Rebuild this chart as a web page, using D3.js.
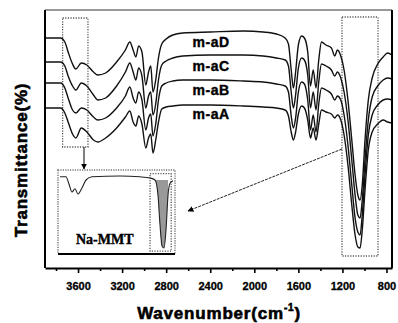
<!DOCTYPE html>
<html>
<head>
<meta charset="utf-8">
<script src="https://cdn.jsdelivr.net/npm/d3@7"></script>
<style>
  body { margin: 0; background: #fff; }
  text { font-family: "Liberation Sans", Arial, sans-serif; font-weight: bold; fill: #000; }
</style>
</head>
<body>
<script>
// FTIR spectra, stacked (transmittance in arbitrary offset units)
const wavenumbers = [3900,3760,3720,3690,3650,3620,3570,3520,3460,3420,3350,3250,3170,3130,3100,3075,3050,3020,2985,2960,2940,2920,2895,2870,2840,2800,2740,2650,2400,2100,1920,1800,1720,1690,1665,1645,1625,1600,1570,1545,1515,1490,1465,1440,1415,1390,1350,1300,1270,1245,1215,1185,1150,1115,1085,1060,1040,1020,995,965,930,880,830,790,750];

const mAD = [115,115,113,108,102,99.5,102.5,101.5,98,96.5,97.5,103,109,113,109,105.5,111,108,91.5,98,101,88,94,105,112,114.5,116.5,117.5,118,118.5,118,117,115,112,99,90,98,111.5,116,115,108,91,99,90,104,113,111.5,110,106,109,106,99,84,64,46.5,36.5,34,41.5,64,84,95,102,105.5,107.5,106.5];
const mAC = [103,103,101,96,91,89,92.5,91,86.5,84,85,91,98,102.5,98,94,100,96,80,86,88,76.5,82,94,101.5,103.5,105,106,106.5,106.5,106,105,104,101,88,80,86.5,100,105,104,96.5,80,88,79,93,102,101,99,96,98,95,88,74,54,36.5,26.5,25,34,54,74,85.5,91,94,95,94.5];
const mAB = [92.5,92.5,90,85,79,77.5,80,79,75.5,74,75,80,86,90.5,85,82.5,88,84,69,75,77,66,72,84,91,92.5,93.5,94,94,93.5,93,92,91,88,76,70,75,88,93,92,84,69,76.5,68,82,90,89,87,84,86,84,76.5,61.5,41.5,25,18,16.5,26.5,46.5,66.5,76.5,81.5,84,84.5,84];
const mAA = [80,80,77.5,73,67,65,70,68,64,63,65,70,75.5,78.5,73,71,76,72,60,65,67,57.5,64,73,79.5,80.5,81,81.5,81.5,81,80.5,80,79,76,68,64,68,77,81,80,74,65,70,64,72,79,78,77,75,76.5,74,66.5,51.5,31.5,16.5,10.5,10,19,39,59,68,72,74,73,72.5];

const seriesNames = ["m-aD", "m-aC", "m-aB", "m-aA"];
const labelValues = [110.5, 98.5, 86.5, 74.5];

// inset: Na-MMT
const naWavenumbers = [3900,3733,3650,3565,3482,3398,3287,3175,3008,2227,1670,1391,1251,1168,1112,1056,1000,945,889,833,750];
const naMMT = [94,94,85,75,79,72.5,80,90,94,95,94,92.5,90,71,34,7.5,5,27.5,71,86,89];

const majorTicks = [3600,3200,2800,2400,2000,1600,1200,800];
const minorTicks = [3800,3400,3000,2600,2200,1800,1400,1000];

const W = 398, H = 323;
const margin = {top: 10, right: 6, bottom: 55, left: 45};

const svg = d3.select("body").append("svg")
  .attr("width", W).attr("height", H)
  .style("background", "#fff");

const x = d3.scaleLinear().domain([3900, 750]).range([margin.left, W - margin.right]);
const y = d3.scaleLinear().domain([0, 129]).range([H - margin.bottom, margin.top]);

const line = d3.line()
  .x(d => x(d[0]))
  .y(d => y(d[1]))
  .curve(d3.curveMonotoneX);

// dotted highlight boxes
function dotBox(g, x0, y0, x1, y1) {
  g.append("rect")
    .attr("x", x0).attr("y", y0)
    .attr("width", x1 - x0).attr("height", y1 - y0)
    .attr("fill", "none")
    .attr("stroke", "#555")
    .attr("stroke-width", 1.3)
    .attr("stroke-dasharray", "1.2,1.4");
}
dotBox(svg, x(3740), y(125), x(3510), y(60.5));
dotBox(svg, x(1204), y(125.5), x(877), y(6));

// spectra
[mAD, mAC, mAB, mAA].forEach(vals => {
  svg.append("path")
    .datum(wavenumbers.map((w, i) => [w, vals[i]]))
    .attr("fill", "none")
    .attr("stroke", "#111")
    .attr("stroke-width", 1.4)
    .attr("stroke-linejoin", "round")
    .attr("d", line);
});

// series labels
svg.selectAll(".lab")
  .data(seriesNames)
  .enter().append("text")
  .attr("class", "lab")
  .attr("x", x(2560))
  .attr("y", (d, i) => y(labelValues[i]))
  .attr("font-size", 14)
  .attr("letter-spacing", 0.5)
  .attr("stroke", "#000").attr("stroke-width", 0.4)
  .text(d => d);

// frame
svg.append("line")
  .attr("x1", x(3900)).attr("x2", x(750))
  .attr("y1", margin.top).attr("y2", margin.top)
  .attr("stroke", "#333").attr("stroke-width", 1);
svg.append("line")
  .attr("x1", x(3900)).attr("x2", x(3900))
  .attr("y1", margin.top).attr("y2", H - margin.bottom)
  .attr("stroke", "#000").attr("stroke-width", 2);
svg.append("line")
  .attr("x1", x(750)).attr("x2", x(750))
  .attr("y1", margin.top).attr("y2", H - margin.bottom)
  .attr("stroke", "#000").attr("stroke-width", 2);

// x axis
const axisG = svg.append("g")
  .attr("transform", "translate(0," + (H - margin.bottom) + ")")
  .call(d3.axisBottom(x).tickValues(majorTicks).tickSize(5).tickSizeOuter(0).tickFormat(d3.format("d")));
axisG.select(".domain").attr("stroke", "#000").attr("stroke-width", 2);
axisG.selectAll(".tick line").attr("stroke", "#000").attr("stroke-width", 1.6);
axisG.selectAll(".tick text")
  .attr("y", 14).attr("dy", "0.71em")
  .attr("font-size", 11)
  .attr("stroke", "#000").attr("stroke-width", 0.3);

const minorG = svg.append("g")
  .attr("transform", "translate(0," + (H - margin.bottom) + ")")
  .call(d3.axisBottom(x).tickValues(minorTicks).tickSize(3).tickFormat(""));
minorG.select(".domain").remove();
minorG.selectAll(".tick line").attr("stroke", "#000").attr("stroke-width", 1.6);

// axis titles
const xt = svg.append("text")
  .attr("x", 219).attr("y", 319)
  .attr("text-anchor", "middle")
  .attr("font-size", 17)
  .attr("letter-spacing", 0.8)
  .attr("stroke", "#000").attr("stroke-width", 0.6);
xt.append("tspan").text("Wavenumber(cm");
xt.append("tspan").attr("font-size", 10).attr("dy", -8).text("-1");
xt.append("tspan").attr("dy", 8).text(")");

svg.append("text")
  .attr("transform", "translate(27," + 160 + ") rotate(-90)")
  .attr("text-anchor", "middle")
  .attr("font-size", 17)
  .attr("letter-spacing", 0.8)
  .attr("stroke", "#000").attr("stroke-width", 0.6)
  .text("Transmittance(%)");

// inset
const inset = {x0: 58, y0: 170, x1: 175, y1: 254};
const ix = d3.scaleLinear().domain([3900, 750]).range([inset.x0 + 2, inset.x1 - 2]);
const iy = d3.scaleLinear().domain([0, 100]).range([inset.y1 - 2, inset.y0 + 2]);

svg.append("rect")
  .attr("x", inset.x0).attr("y", inset.y0)
  .attr("width", inset.x1 - inset.x0).attr("height", inset.y1 - inset.y0)
  .attr("fill", "#fff")
  .attr("stroke", "#777").attr("stroke-width", 1.5)
  .attr("stroke-dasharray", "1.2,1.2");
svg.append("line")
  .attr("x1", inset.x0).attr("x2", inset.x1)
  .attr("y1", inset.y1).attr("y2", inset.y1)
  .attr("stroke", "#000").attr("stroke-width", 2);
dotBox(svg, ix(1390), iy(98), ix(800), iy(1));

const naData = naWavenumbers.map((w, i) => [w, naMMT[i]]);
const dipData = naData.filter(d => d[0] <= 1251 && d[0] >= 889);
svg.append("path")
  .datum(dipData)
  .attr("fill", "#999")
  .attr("stroke", "none")
  .attr("d", d3.area().x(d => ix(d[0])).y0(iy(90)).y1(d => iy(d[1])).curve(d3.curveMonotoneX));
svg.append("path")
  .datum(naData)
  .attr("fill", "none")
  .attr("stroke", "#222")
  .attr("stroke-width", 1.1)
  .attr("d", d3.line().x(d => ix(d[0])).y(d => iy(d[1])).curve(d3.curveMonotoneX));

svg.append("text")
  .attr("x", 76).attr("y", 244)
  .style("font-family", "'Liberation Serif', 'Times New Roman', serif")
  .attr("font-size", 14)
  .attr("stroke", "#000").attr("stroke-width", 0.4)
  .text("Na-MMT");

// arrows
const defs = svg.append("defs");
defs.append("marker")
  .attr("id", "ah")
  .attr("viewBox", "0 0 10 10")
  .attr("refX", 9).attr("refY", 5)
  .attr("markerWidth", 6).attr("markerHeight", 6)
  .attr("markerUnits", "userSpaceOnUse")
  .attr("orient", "auto")
  .append("path").attr("d", "M0,0 L10,5 L0,10 z").attr("fill", "#000");

svg.append("line")
  .attr("x1", 84).attr("y1", y(60.5))
  .attr("x2", 84).attr("y2", inset.y0 - 1)
  .attr("stroke", "#000").attr("stroke-width", 1)
  .attr("marker-end", "url(#ah)");
svg.append("line")
  .attr("x1", x(1204)).attr("y1", 149)
  .attr("x2", 188).attr("y2", 211)
  .attr("stroke", "#222").attr("stroke-width", 1)
  .attr("stroke-dasharray", "3,1")
  .attr("marker-end", "url(#ah)");
</script>
</body>
</html>
